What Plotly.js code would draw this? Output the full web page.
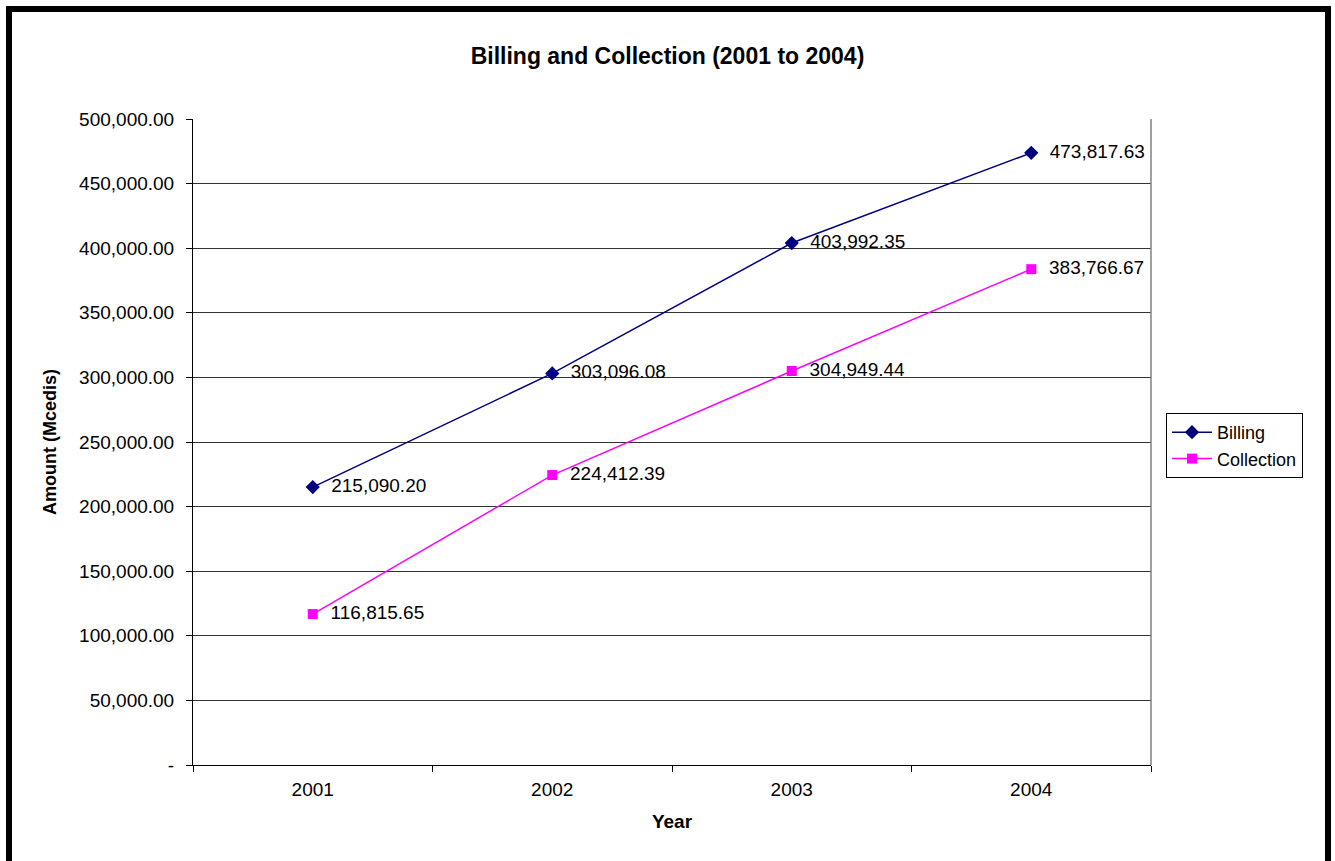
<!DOCTYPE html>
<html>
<head>
<meta charset="utf-8">
<script src="https://cdn.plot.ly/plotly-3.0.1.min.js"></script>
<style>
html,body{margin:0;padding:0;background:#fff;}
#chart{width:1335px;height:861px;}
#frame{position:absolute;left:6px;top:6px;width:1325px;height:862px;box-sizing:border-box;border:6px solid #000;pointer-events:none;}
</style>
</head>
<body>
<div id="chart"></div>
<div id="frame"></div>
<script>
const years = ['2001', '2002', '2003', '2004'];
const billing = [215090.20, 303096.08, 403992.35, 473817.63];
const collection = [116815.65, 224412.39, 304949.44, 383766.67];
const yTickVals = [0, 50000, 100000, 150000, 200000, 250000, 300000, 350000, 400000, 450000, 500000];
const yTickText = ['-', '50,000.00', '100,000.00', '150,000.00', '200,000.00', '250,000.00', '300,000.00', '350,000.00', '400,000.00', '450,000.00', '500,000.00'];

const font = 'Arial, "Liberation Sans", sans-serif';

const traces = [
  {
    x: years, y: billing, name: 'Billing', type: 'scatter', mode: 'lines+markers+text',
    line: {color: '#000080', width: 1.5},
    marker: {symbol: 'diamond', size: 11, color: '#000080'},
    texttemplate: '  %{y:,.2f}', textposition: 'middle right',
    textfont: {family: font, size: 19, color: '#000'},
    cliponaxis: false
  },
  {
    x: years, y: collection, name: 'Collection', type: 'scatter', mode: 'lines+markers+text',
    line: {color: '#FF00FF', width: 1.5},
    marker: {symbol: 'square', size: 10, color: '#FF00FF'},
    texttemplate: '  %{y:,.2f}', textposition: 'middle right',
    textfont: {family: font, size: 19, color: '#000'},
    cliponaxis: false
  }
];

const layout = {
  width: 1335, height: 861,
  margin: {l: 193, r: 184, t: 119, b: 96},
  paper_bgcolor: '#fff', plot_bgcolor: '#fff',
  font: {family: font, size: 19, color: '#000'},
  title: {text: '<b>Billing and Collection (2001 to 2004)</b>', x: 0.5, xref: 'container', y: 1 - 56/861, yref: 'container', yanchor: 'middle', font: {family: font, size: 23, color: '#000'}},
  xaxis: {
    type: 'category', tickson: 'boundaries', ticks: 'outside', ticklen: 6, tickcolor: '#000',
    showline: true, linecolor: '#000', linewidth: 1, showgrid: false, zeroline: false,
    range: [-0.5, 3.5], fixedrange: true,
    tickfont: {family: font, size: 19}, ticklabelstandoff: 7,
    title: {text: '<b>Year</b>', font: {family: font, size: 19}, standoff: 15}
  },
  yaxis: {
    range: [0, 500000], tickvals: yTickVals, ticktext: yTickText,
    ticks: 'outside', ticklen: 6, tickcolor: '#000',
    showline: true, linecolor: '#000', linewidth: 1,
    showgrid: true, gridcolor: '#333', gridwidth: 1, zeroline: false,
    tickfont: {family: font, size: 19}, ticklabelstandoff: 8,
    title: {text: '<b>Amount (Mcedis)</b>', font: {family: font, size: 18}, standoff: 17}
  },
  showlegend: true,
  legend: {
    x: (1166 - 193) / 958, xanchor: 'left', y: (765 - 413) / 646, yanchor: 'top',
    bordercolor: '#000', borderwidth: 1, bgcolor: '#fff',
    font: {family: font, size: 18, color: '#000'},
    tracegroupgap: 0, itemwidth: 40
  },
  shapes: [
    {type: 'line', xref: 'paper', yref: 'paper', x0: 1, x1: 1, y0: 0, y1: 1, line: {color: '#808080', width: 1.5}}
  ]
};

Plotly.newPlot('chart', traces, layout, {displayModeBar: false, staticPlot: true});
</script>
</body>
</html>
